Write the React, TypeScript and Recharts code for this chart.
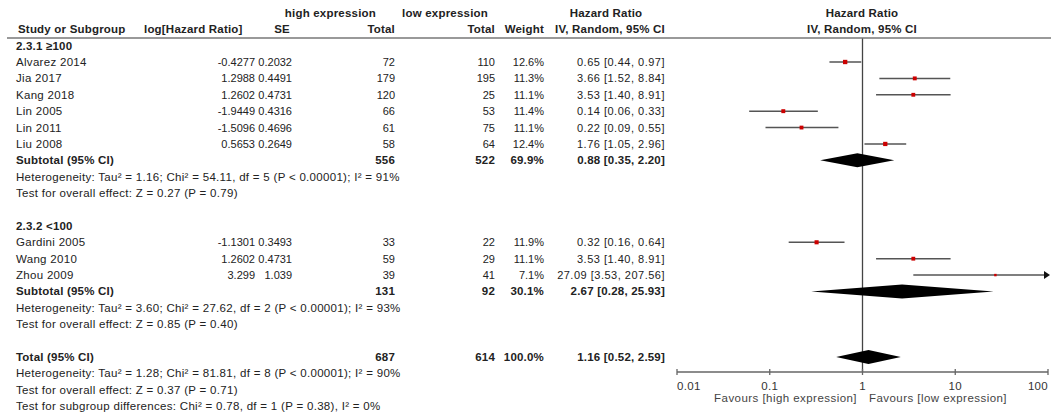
import { ComposedChart, Scatter, XAxis, YAxis, ReferenceLine } from 'recharts';

// studies, in the order they are listed
const studies = ['Alvarez 2014', 'Jia 2017', 'Kang 2018', 'Lin 2005', 'Lin 2011', 'Liu 2008', 'Gardini 2005', 'Wang 2010', 'Zhou 2009'];
const studyRows = [3, 4, 5, 6, 7, 8, 14, 15, 16];
const logHR = ['-0.4277', '1.2988', '1.2602', '-1.9449', '-1.5096', '0.5653', '-1.1301', '1.2602', '3.299'];
const seVals = ['0.2032', '0.4491', '0.4731', '0.4316', '0.4696', '0.2649', '0.3493', '0.4731', '1.039'];
const highTotals = [72, 179, 120, 66, 61, 58, 33, 59, 39];
const lowTotals = [110, 195, 25, 53, 75, 64, 22, 29, 41];
const weights = [12.6, 11.3, 11.1, 11.4, 11.1, 12.4, 11.9, 11.1, 7.1];
const hr = [0.65, 3.66, 3.53, 0.14, 0.22, 1.76, 0.32, 3.53, 27.09];
const ciLow = [0.44, 1.52, 1.4, 0.06, 0.09, 1.05, 0.16, 1.4, 3.53];
const ciHigh = [0.97, 8.84, 8.91, 0.33, 0.55, 2.96, 0.64, 8.91, 207.56];

// pooled estimates (two subtotals + overall)
const sumLabels = ['Subtotal (95% CI)', 'Subtotal (95% CI)', 'Total (95% CI)'];
const sumRows = [9, 17, 21];
const sumHigh = [556, 131, 687];
const sumLow = [522, 92, 614];
const sumWeight = ['69.9%', '30.1%', '100.0%'];
const sumEst = [0.88, 2.67, 1.16];
const sumLo = [0.35, 0.28, 0.52];
const sumHi = [2.2, 25.93, 2.59];

const groupLabels = ['2.3.1 ≥100', '2.3.2 <100'];
const groupRows = [2, 13];

const noteTexts = [
  'Heterogeneity: Tau² = 1.16; Chi² = 54.11, df = 5 (P < 0.00001); I² = 91%',
  'Test for overall effect: Z = 0.27 (P = 0.79)',
  'Heterogeneity: Tau² = 3.60; Chi² = 27.62, df = 2 (P < 0.00001); I² = 93%',
  'Test for overall effect: Z = 0.85 (P = 0.40)',
];
const noteRows = [10, 11, 18, 19];
const footerTexts = [
  'Heterogeneity: Tau² = 1.28; Chi² = 81.81, df = 8 (P < 0.00001); I² = 90%',
  'Test for overall effect: Z = 0.37 (P = 0.71)',
  'Test for subgroup differences: Chi² = 0.78, df = 1 (P = 0.38), I² = 0%',
];
const footerRows = [22, 23, 24];

const xTicks = [0.01, 0.1, 1, 10, 100];
const xTickLabels = ['0.01', '0.1', '1', '10', '100'];

const W = 1051;
const H = 419;
const ROW0 = 12.83;
const ROW_H = 16.39;
const PLOT_TOP = 38;
const PLOT_BOTTOM = 372;
const PLOT_LEFT = 677;
const X_MAX = 100;
const rowY = (r: number) => ROW0 + ROW_H * r;
const yDomain = [(PLOT_TOP - ROW0) / ROW_H, (PLOT_BOTTOM - ROW0) / ROW_H];

const FONT = '"Liberation Sans", Arial, sans-serif';
const TXT = '#222';
const COL = { name: 16, logHR: 255, se: 292, high: 395, low: 495, weight: 544, ci: 665 };

const fmtCI = (e: number, l: number, h: number) => `${e.toFixed(2)} [${l.toFixed(2)}, ${h.toFixed(2)}]`;

type TableRow = {
  x: number;
  y: number;
  name?: string;
  logHR?: string;
  se?: string;
  high?: string;
  low?: string;
  weight?: string;
  ci?: string;
  bold?: boolean;
  note?: string;
};

const tableRows: TableRow[] = [
  ...studies.map((s, i) => ({
    x: 1,
    y: studyRows[i],
    name: s,
    logHR: logHR[i],
    se: seVals[i],
    high: String(highTotals[i]),
    low: String(lowTotals[i]),
    weight: weights[i].toFixed(1) + '%',
    ci: fmtCI(hr[i], ciLow[i], ciHigh[i]),
  })),
  ...sumLabels.map((s, i) => ({
    x: 1,
    y: sumRows[i],
    name: s,
    high: String(sumHigh[i]),
    low: String(sumLow[i]),
    weight: sumWeight[i],
    ci: fmtCI(sumEst[i], sumLo[i], sumHi[i]),
    bold: true,
  })),
  ...groupLabels.map((s, i) => ({ x: 1, y: groupRows[i], name: s, bold: true })),
  ...noteTexts.map((s, i) => ({ x: 1, y: noteRows[i], note: s })),
];

const ciPoints = studies.flatMap((_, i) => [
  { x: ciLow[i], y: studyRows[i], clipped: false },
  { x: Math.min(ciHigh[i], X_MAX), y: studyRows[i], clipped: ciHigh[i] > X_MAX },
]);

const squarePoints = studies.map((_, i) => ({ x: hr[i], y: studyRows[i], w: weights[i] }));

const DIA_H = 7 / ROW_H;
const diamondPoints = sumEst.flatMap((e, i) => [
  { x: sumLo[i], y: sumRows[i] },
  { x: e, y: sumRows[i] - DIA_H },
  { x: sumHi[i], y: sumRows[i] },
  { x: e, y: sumRows[i] + DIA_H },
]);

type Kind = 'label' | 'num' | 'ci' | 'bold' | 'favours';
const STYLE: Record<Kind, { size: number; spacing: number; weight: string }> = {
  label: { size: 11.5, spacing: 0.3, weight: 'normal' },
  num: { size: 11, spacing: 0, weight: 'normal' },
  ci: { size: 11, spacing: 0.5, weight: 'normal' },
  bold: { size: 11.5, spacing: 0.2, weight: 'bold' },
  favours: { size: 11.5, spacing: 0.45, weight: 'normal' },
};

const txt = (x: number, y: number, s: string, anchor: 'start' | 'middle' | 'end', kind: Kind, fill = TXT) => {
  const st = STYLE[kind];
  return (
    <text
      x={x}
      y={y}
      textAnchor={anchor}
      fontFamily={FONT}
      fontSize={st.size}
      letterSpacing={st.spacing}
      fontWeight={st.weight}
      fill={fill}
    >
      {s}
    </text>
  );
};

function TableShape(props: any) {
  const { cy, payload } = props;
  const r = payload as TableRow;
  const y = cy + 4;
  if (r.note) return <g>{txt(COL.name, y, r.note, 'start', 'label')}</g>;
  const b = r.bold;
  return (
    <g>
      {r.name && txt(COL.name, y, r.name, 'start', b ? 'bold' : 'label')}
      {r.logHR && txt(COL.logHR, y, r.logHR, 'end', 'num')}
      {r.se && txt(COL.se, y, r.se, 'end', 'num')}
      {r.high && txt(COL.high, y, r.high, 'end', b ? 'bold' : 'num')}
      {r.low && txt(COL.low, y, r.low, 'end', b ? 'bold' : 'num')}
      {r.weight && txt(COL.weight, y, r.weight, 'end', b ? 'bold' : 'num')}
      {r.ci && txt(COL.ci, y, r.ci, 'end', b ? 'bold' : 'ci')}
    </g>
  );
}

function CiLines(props: any) {
  const pts = props.points as { x: number; y: number }[];
  const out = [];
  for (let k = 0; k + 1 < pts.length; k += 2) {
    const a = pts[k];
    const b = pts[k + 1];
    out.push(<line key={'l' + k} x1={a.x} y1={a.y} x2={b.x} y2={b.y} stroke="#555" strokeWidth={1.5} />);
    if (ciPoints[k + 1].clipped) {
      out.push(
        <polygon key={'a' + k} points={`${b.x + 2},${b.y} ${b.x - 4},${b.y - 4} ${b.x - 4},${b.y + 4}`} fill="#111" />
      );
    }
  }
  return <g>{out}</g>;
}

function Diamonds(props: any) {
  const pts = props.points as { x: number; y: number }[];
  const out = [];
  for (let k = 0; k + 3 < pts.length; k += 4) {
    const p = pts.slice(k, k + 4).map((q) => `${q.x},${q.y}`).join(' ');
    out.push(<polygon key={k} points={p} fill="#000" stroke="none" />);
  }
  return <g>{out}</g>;
}

function SquareShape(props: any) {
  const { cx, cy, payload } = props;
  const s = payload.w / 2.9;
  return <rect x={cx - s / 2} y={cy - s / 2} width={s} height={s} fill="#cc0000" />;
}

const Empty = () => <g />;

function XTick(props: any) {
  const { x, y, index } = props;
  const anchor = index === 0 ? 'start' : index === xTicks.length - 1 ? 'end' : 'middle';
  return (
    <g>
      <line x1={x} x2={x} y1={y - 3} y2={y + 3} stroke="#666" strokeWidth={1.3} />
      {txt(x, y + 17.5, xTickLabels[index], anchor, 'label', '#333')}
    </g>
  );
}

export default function App() {
  return (
    <div style={{ position: 'absolute', left: 0, top: 0, width: W, height: H, background: '#fff' }}>
      <ComposedChart width={W} height={H} margin={{ top: PLOT_TOP, right: W - 1048, bottom: 0, left: PLOT_LEFT }}>
        <XAxis
          type="number"
          dataKey="x"
          scale="log"
          domain={[0.01, 100]}
          ticks={xTicks}
          interval={0}
          height={H - PLOT_BOTTOM}
          axisLine={{ stroke: '#666', strokeWidth: 1.5 }}
          tickLine={false}
          tickSize={0}
          tickMargin={0}
          tick={XTick}
        />
        <YAxis type="number" dataKey="y" domain={yDomain} reversed hide />
        <ReferenceLine x={1} stroke="#444" strokeWidth={1.3} />
        <Scatter data={tableRows} shape={TableShape} isAnimationActive={false} />
        <Scatter data={ciPoints} shape={Empty} line={CiLines} isAnimationActive={false} />
        <Scatter data={diamondPoints} shape={Empty} line={Diamonds} isAnimationActive={false} />
        <Scatter data={squarePoints} shape={SquareShape} isAnimationActive={false} />
      </ComposedChart>
      <svg width={W} height={H} style={{ position: 'absolute', left: 0, top: 0, pointerEvents: 'none' }}>
        <line x1={7} x2={W} y1={PLOT_TOP} y2={PLOT_TOP} stroke="#777" strokeWidth={1.5} />
        {txt(376, rowY(0) + 4, 'high expression', 'end', 'bold')}
        {txt(488, rowY(0) + 4, 'low expression', 'end', 'bold')}
        {txt(606, rowY(0) + 4, 'Hazard Ratio', 'middle', 'bold')}
        {txt(862, rowY(0) + 4, 'Hazard Ratio', 'middle', 'bold')}
        {txt(18, rowY(1) + 4, 'Study or Subgroup', 'start', 'bold')}
        {txt(144, rowY(1) + 4, 'log[Hazard Ratio]', 'start', 'bold')}
        {txt(COL.se - 2, rowY(1) + 4, 'SE', 'end', 'bold')}
        {txt(COL.high, rowY(1) + 4, 'Total', 'end', 'bold')}
        {txt(COL.low, rowY(1) + 4, 'Total', 'end', 'bold')}
        {txt(COL.weight, rowY(1) + 4, 'Weight', 'end', 'bold')}
        {txt(COL.ci, rowY(1) + 4, 'IV, Random, 95% CI', 'end', 'bold')}
        {txt(862, rowY(1) + 4, 'IV, Random, 95% CI', 'middle', 'bold')}
        {footerTexts.map((s, i) => (
          <g key={i}>{txt(COL.name, rowY(footerRows[i]) + 4, s, 'start', 'label')}</g>
        ))}
        {txt(857, 402, 'Favours [high expression]', 'end', 'favours', '#444')}
        {txt(869, 402, 'Favours [low expression]', 'start', 'favours', '#444')}
      </svg>
    </div>
  );
}
